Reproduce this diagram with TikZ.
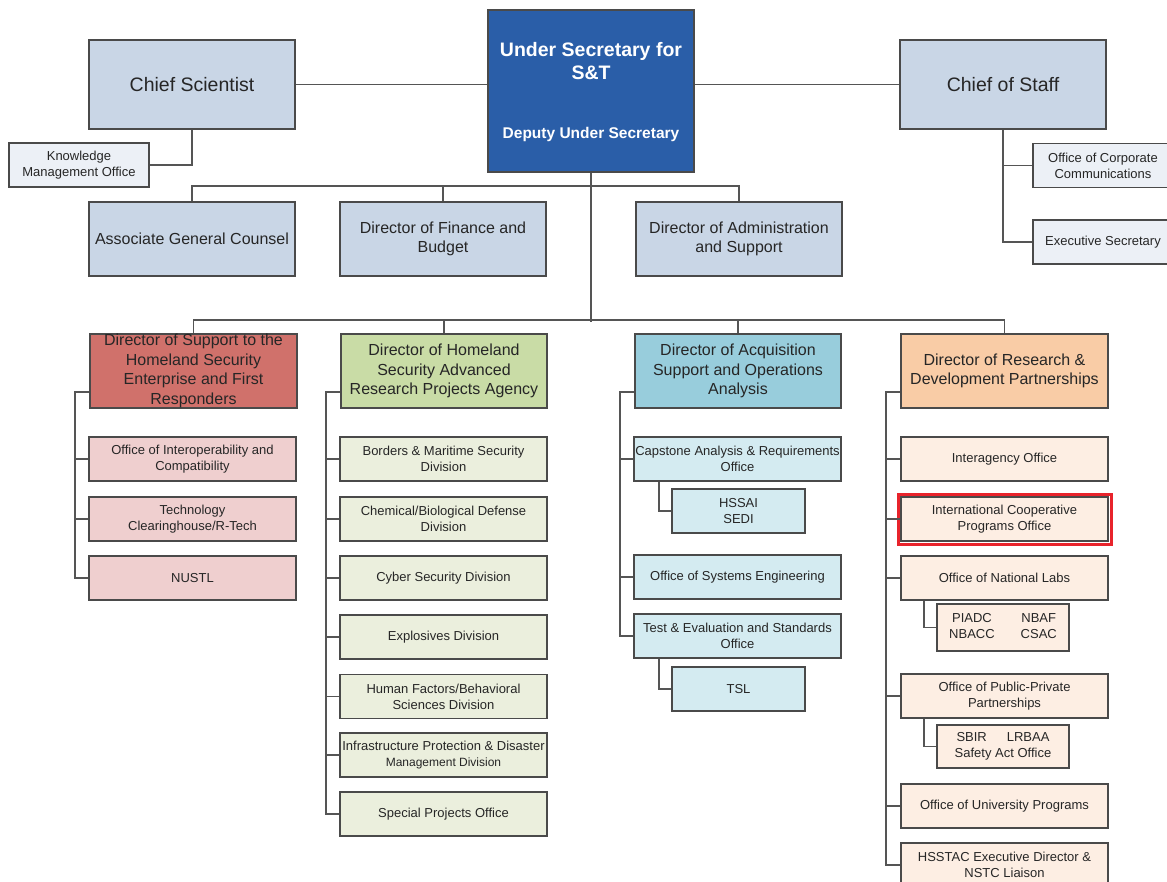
\documentclass[tikz,border=0pt]{standalone}
\usepackage{fontspec}
\setmainfont{Liberation Sans}
\usepackage{xcolor}

\definecolor{linegray}{HTML}{555555}
\definecolor{framegray}{HTML}{4A4A4A}
\definecolor{topfill}{HTML}{C9D6E6}
\definecolor{usfill}{HTML}{2A5EA8}
\definecolor{palefill}{HTML}{ECF0F6}
\definecolor{redhead}{HTML}{D0716B}
\definecolor{redsub}{HTML}{EFCFCF}
\definecolor{greenhead}{HTML}{C9DCA6}
\definecolor{greensub}{HTML}{EBEFDD}
\definecolor{bluehead}{HTML}{98CDDC}
\definecolor{bluesub}{HTML}{D4EBF1}
\definecolor{orangehead}{HTML}{F9CCA6}
\definecolor{orangesub}{HTML}{FDEEE3}
\definecolor{hilite}{HTML}{E8232B}

\tikzset{
    unit/.style={draw=framegray, line width=1.5pt, rectangle, align=center, inner sep=0pt, text=black!85},
    bigunit/.style={unit, fill=topfill, minimum width=206pt, minimum height=89pt, font=\fontsize{19.5}{23}\selectfont},
    midunit/.style={unit, minimum width=206pt, minimum height=74pt, font=\fontsize{16}{19.5}\selectfont},
    office/.style={unit, minimum width=207pt, minimum height=44pt, font=\fontsize{13}{16}\selectfont},
    suboffice/.style={office, minimum width=133pt},
    conn/.style={draw=linegray, line width=1.6pt},
    marked/.style={draw=hilite, line width=2.6pt},
}

\begin{document}
\begin{tikzpicture}[x=1pt, y=-1pt]
        \useasboundingbox (0,0) rectangle (1167,881);
        \clip (0,0) rectangle (1167,881);

        % top level
        \node[bigunit] (cs) at (192,84.5) {Chief Scientist};
        \node[unit, fill=usfill, minimum width=206pt, minimum height=162pt] (usec) at (591,91) {};
        \node[font=\fontsize{19.5}{23}\selectfont\bfseries, text=white, align=center] (usectitle) at (591,61) {Under Secretary for\\S\&T};
        \node[font=\fontsize{15.5}{18}\selectfont\bfseries, text=white] (usecdep) at (591,134) {Deputy Under Secretary};
        \node[bigunit] (cos) at (1003,84.5) {Chief of Staff};
        \node[office, fill=palefill, minimum width=140pt] (kmo) at (79,165) {Knowledge\\Management Office};
        \node[office, fill=palefill, minimum width=140pt] (occ) at (1103,165.5) {Office of Corporate\\Communications};
        \node[office, fill=palefill, minimum width=140pt] (exsec) at (1103,242) {Executive Secretary};

        \node[midunit, fill=topfill] (agc) at (192,239) {Associate General Counsel};
        \node[midunit, fill=topfill] (dfb) at (443,239) {Director of Finance and\\Budget};
        \node[midunit, fill=topfill] (das) at (739,239) {Director of Administration\\and Support};

        % directors
        \node[midunit, fill=redhead, minimum width=207pt] (dshse) at (193.5,371) {Director of Support to the\\Homeland Security\\Enterprise and First\\Responders};
        \node[midunit, fill=greenhead] (dhsarpa) at (444,371) {Director of Homeland\\Security Advanced\\Research Projects Agency};
        \node[midunit, fill=bluehead] (dasoa) at (738,371) {Director of Acquisition\\Support and Operations\\Analysis};
        \node[midunit, fill=orangehead, minimum width=207pt] (drdp) at (1004.5,371) {Director of Research \&\\Development Partnerships};

        % offices
        \node[office, fill=redsub] (oic) at (192.5,459) {Office of Interoperability and\\Compatibility};
        \node[office, fill=redsub] (tch) at (192.5,519) {Technology\\Clearinghouse/R-Tech};
        \node[office, fill=redsub] (nustl) at (192.5,578) {NUSTL};

        \node[office, fill=greensub] (bmsd) at (443.5,459) {Borders \& Maritime Security\\Division};
        \node[office, fill=greensub] (cbdd) at (443.5,519) {Chemical/Biological Defense\\Division};
        \node[office, fill=greensub] (csd) at (443.5,578) {Cyber Security Division};
        \node[office, fill=greensub] (exd) at (443.5,637) {Explosives Division};
        \node[office, fill=greensub] (hfd) at (443.5,696.5) {Human Factors/Behavioral\\Sciences Division};
        \node[office, fill=greensub] (ipd) at (443.5,755) {Infrastructure Protection \& Disaster\\{\fontsize{12}{15}\selectfont Management Division}};
        \node[office, fill=greensub] (spo) at (443.5,814) {Special Projects Office};

        \node[office, fill=bluesub] (caro) at (737.5,459) {Capstone Analysis \& Requirements\\Office};
        \node[suboffice, fill=bluesub] (hssai) at (738.5,511) {HSSAI\\SEDI};
        \node[office, fill=bluesub] (ose) at (737.5,577) {Office of Systems Engineering};
        \node[office, fill=bluesub] (tes) at (737.5,636) {Test \& Evaluation and Standards\\Office};
        \node[suboffice, fill=bluesub] (tsl) at (738.5,689) {TSL};

        \node[office, fill=orangesub] (iao) at (1004.5,459) {Interagency Office};
        \node[office, fill=orangesub] (icpo) at (1004.5,519) {International Cooperative\\Programs Office};
        \node[office, fill=orangesub] (onl) at (1004.5,578) {Office of National Labs};
        \node[suboffice, fill=orangesub, minimum width=132pt, minimum height=47pt] (labs) at (1003,627.5) {\begin{tabular}{@{}c@{\hspace{26pt}}c@{}}PIADC & NBAF\\NBACC & CSAC\end{tabular}};
        \node[office, fill=orangesub] (oppp) at (1004.5,696) {Office of Public-Private\\Partnerships};
        \node[suboffice, fill=orangesub, minimum width=132pt, minimum height=43pt] (sbir) at (1003,746.5) {SBIR\hspace{20pt}LRBAA\\Safety Act Office};
        \node[office, fill=orangesub] (oup) at (1004.5,806) {Office of University Programs};
        \node[office, fill=orangesub] (hsstac) at (1004.5,865) {HSSTAC Executive Director \&\\NSTC Liaison};

        \draw[marked] ([shift={(-2,-2)}]icpo.north west) rectangle ([shift={(3,3)}]icpo.south east);

        % connectors
        \draw[conn] (cs.east) -- (cs.east -| usec.west);
        \draw[conn] (cos.west) -- (cos.west -| usec.east);
        \draw[conn] (cs.south) |- (kmo.east);
        \draw[conn] (cos.south) |- (exsec.west);
        \draw[conn] (cos.south |- occ) -- (occ.west);

        \draw[conn] (agc.north) -- ++(0,-15) -| (das.north);
        \draw[conn] (dfb.north) -- ++(0,-15);
        \draw[conn] (usec.south) -- ++(0,149);
        \draw[conn] (dshse.north) -- ++(0,-13) -| (drdp.north);
        \draw[conn] (dhsarpa.north) -- ++(0,-13);
        \draw[conn] (dasoa.north) -- ++(0,-13);

        \coordinate (t1) at (75,392);
        \coordinate (t2) at (326,392);
        \coordinate (t3) at (620,392);
        \coordinate (t4) at (886,392);
        \draw[conn] (dshse.west |- t1) -- (t1) |- (nustl.west);
        \draw[conn] (t1 |- oic) -- (oic.west);
        \draw[conn] (t1 |- tch) -- (tch.west);

        \draw[conn] (dhsarpa.west |- t2) -- (t2) |- (spo.west);
        \draw[conn] (t2 |- bmsd) -- (bmsd.west);
        \draw[conn] (t2 |- cbdd) -- (cbdd.west);
        \draw[conn] (t2 |- csd) -- (csd.west);
        \draw[conn] (t2 |- exd) -- (exd.west);
        \draw[conn] (t2 |- hfd) -- (hfd.west);
        \draw[conn] (t2 |- ipd) -- (ipd.west);

        \draw[conn] (dasoa.west |- t3) -- (t3) |- (tes.west);
        \draw[conn] (t3 |- caro) -- (caro.west);
        \draw[conn] (t3 |- ose) -- (ose.west);
        \coordinate (h3a) at ([xshift=-12pt]hssai.west);
        \coordinate (h3b) at ([xshift=-12pt]tsl.west);
        \draw[conn] (h3a |- caro.south) |- (hssai.west);
        \draw[conn] (h3b |- tes.south) |- (tsl.west);

        \draw[conn] (drdp.west |- t4) -- (t4) |- (hsstac.west);
        \draw[conn] (t4 |- iao) -- (iao.west);
        \draw[conn] (t4 |- icpo) -- (icpo.west);
        \draw[conn] (t4 |- onl) -- (onl.west);
        \draw[conn] (t4 |- oppp) -- (oppp.west);
        \draw[conn] (t4 |- oup) -- (oup.west);
        \coordinate (h4a) at ([xshift=-12pt]labs.west);
        \coordinate (h4b) at ([xshift=-12pt]sbir.west);
        \draw[conn] (h4a |- onl.south) |- (labs.west);
        \draw[conn] (h4b |- oppp.south) |- (sbir.west);
\end{tikzpicture}
\end{document}
